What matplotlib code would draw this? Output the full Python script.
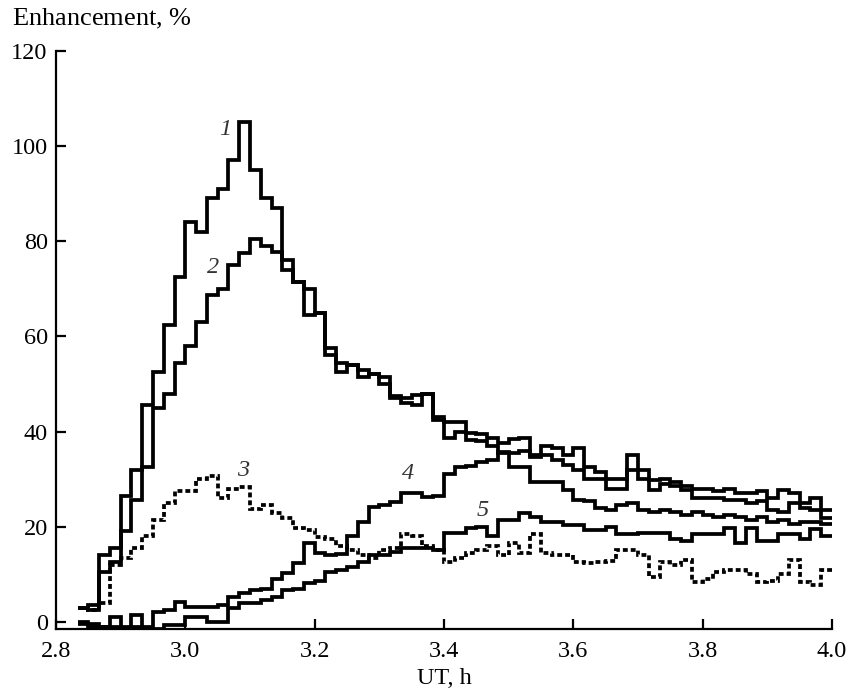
import numpy as np
import matplotlib
matplotlib.use("Agg")
import matplotlib.pyplot as plt

plt.rcParams['font.family'] = ['Liberation Serif', 'DejaVu Serif']
plt.rcParams['mathtext.fontset'] = 'custom'
plt.rcParams['mathtext.rm'] = 'Liberation Serif'
plt.rcParams['mathtext.it'] = 'Liberation Serif:italic'

# one-minute bins from 2:50 UT to 4:00 UT
start_ut = 2.8333
edges = start_ut + np.arange(71) / 60.0

curve1 = [3, 3.5, 14, 15.5, 26.5, 32, 45.6, 52.5, 62.4, 72.5,
          84, 82, 89, 91, 97, 105, 95, 89, 87, 74,
          71.5, 64.5, 65, 56, 52.5, 54, 51.5, 52, 50, 47,
          46, 45.5, 48, 43, 38.6, 40, 38.2, 38, 37, 35.5,
          35.5, 36, 34.7, 35, 34, 33, 32, 30, 30, 28,
          28, 32, 30, 27.7, 29, 28.5, 27.7, 26, 26, 26,
          25.6, 25.6, 25, 25.5, 23.5, 23, 25, 24, 23.5, 21.8]
curve2 = [3, 2.5, 10.5, 12.5, 19, 25.6, 32.6, 45, 48, 54.4,
          58, 63, 68.7, 70, 75, 77.5, 80.5, 79, 77.7, 76,
          71.5, 70, 65, 57.5, 54.4, 54, 53, 52, 51.5, 47.5,
          47, 47.7, 48, 42.5, 42, 42, 39.7, 39.5, 38.6, 37.6,
          38.5, 38.6, 35, 37, 36.5, 35, 36.5, 32.6, 31.5, 30,
          30, 35, 32, 29.8, 30, 29.5, 28.5, 28, 28, 27.5,
          28, 27, 27, 27.5, 26, 27.7, 27, 25, 26, 23.5]
curve3 = [3, 2.5, 4, 12, 13.5, 15.5, 18, 21.5, 25, 27.5,
          27.5, 30, 30.7, 26, 28, 28.3, 23.7, 24.6, 22.9, 21.8,
          19.7, 19.3, 17.8, 17.5, 16, 15, 14, 13.5, 15, 15.5,
          18.5, 18, 16, 15, 12.5, 13.5, 14.5, 15, 16, 14,
          16.5, 14.5, 18.5, 14.5, 14, 14, 12.5, 12.3, 12.5, 12.8,
          15, 15, 14, 9.5, 12.6, 12, 13, 8.4, 9, 10.5,
          11, 11, 10, 8.4, 8.5, 10, 13, 8.4, 7.7, 11]
curve4 = [0, -0.5, -1, 1, -1, 1.5, -1, 2, 2.4, 4.2,
          3.2, 3.2, 3.2, 3.5, 5.3, 6, 6.7, 7, 9, 10.3,
          12.4, 16.6, 14.5, 14, 14.3, 18, 21, 24.2, 24.5, 25.2,
          27, 27, 26.3, 26.5, 31, 32.6, 32.8, 33.6, 34, 35.7,
          32.6, 32.6, 29.5, 29.5, 29.5, 27.7, 25.6, 25.5, 24, 23.5,
          24.5, 25, 23.5, 23, 23.5, 23, 22.5, 23, 22.5, 22,
          22.5, 22, 21.5, 22, 21, 21.5, 20.5, 21, 21, 20.5]
curve5 = [-0.5, -1, -1, -1, -1.5, -1, -1.5, -1.5, -0.6, -0.6,
          1, 1, 0, 0, 3, 4, 4, 4.5, 5.3, 6.7,
          7, 8.2, 8.5, 10.5, 11, 11.5, 12.6, 14, 14, 14.7,
          15.5, 15.5, 15.5, 15, 18.7, 18.7, 19.7, 20, 18, 21.4,
          21.4, 22.9, 22, 21, 21, 20.4, 20.4, 19.3, 19.3, 20,
          18.5, 18.5, 18.7, 18.7, 18.7, 17.5, 17, 18.5, 18.5, 18.5,
          19.7, 16.6, 19.7, 17, 17, 18.5, 18.5, 17.5, 19.5, 18]

labels = ['1', '2', '3', '4', '5']
label_x = [3.062, 3.043, 3.089, 3.345, 3.46]
label_y = [103.4, 74.4, 31.9, 31.1, 23.3]

fig = plt.figure(figsize=(8.48, 6.93), dpi=100)
ax = fig.add_axes([0.066, 0.0924, 0.9151, 0.834])

lw = 2.7
for c in [curve1, curve2, curve4, curve5]:
    ax.stairs(c, edges, baseline=None, color='black', lw=lw, joinstyle='miter')
ax.stairs(curve3, edges, baseline=None, color='black', lw=lw,
          linestyle=(0, (1.3, 0.8)))

for s, x, y in zip(labels, label_x, label_y):
    ax.text(x, y, s, fontsize=17.5, style='italic', ha='center', va='center',
            color='#333333')

ax.set_xlim(2.8, 4.0)
ax.set_ylim(-1.5, 120)
ax.set_xticks([2.8, 3.0, 3.2, 3.4, 3.6, 3.8, 4.0])
ax.set_xticklabels(['2.8', '3.0', '3.2', '3.4', '3.6', '3.8', '4.0'])
ax.set_yticks([0, 20, 40, 60, 80, 100, 120])

for side in ['top', 'right']:
    ax.spines[side].set_visible(False)
for side in ['left', 'bottom']:
    ax.spines[side].set_linewidth(1.6)

ax.tick_params(direction='in', length=7, width=1.6, labelsize=17.5, colors='black')
ax.tick_params(axis='x', pad=9)
ax.tick_params(axis='y', pad=6)

ax.set_xlabel('UT, h', fontsize=17.5, labelpad=4)
fig.text(0.014, 0.99, r'Enhancement, $\mathit{\%}$', fontsize=19, ha='left', va='top')

fig.savefig('out.png', dpi=100)
